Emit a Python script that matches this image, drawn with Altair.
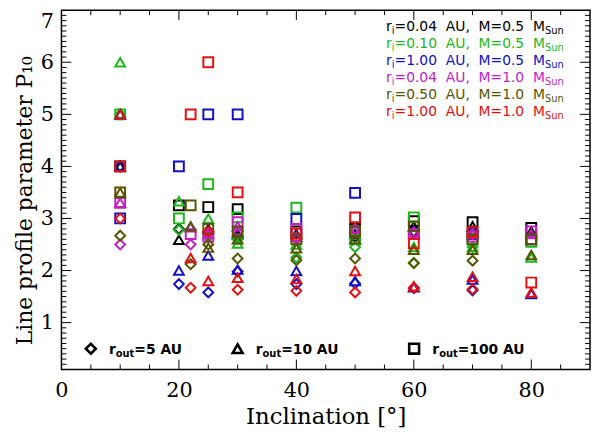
import altair as alt
import pandas as pd

# inclinations [deg] of the two model grids
incl_m05 = [10, 20, 25, 30, 40, 50, 60, 70, 80]
incl_m10 = [10, 22, 25, 30, 40, 50, 60, 70, 80]

# P10: _d r_out=5 AU, _t r_out=10 AU, _s r_out=100 AU
black_d = [4.0, 2.80, 2.75, 2.65, 2.60, 2.65, 2.75, 2.75, None]
black_t = [4.0, 2.59, 2.80, 2.70, 2.70, 2.70, 2.85, 2.85, 2.75]
black_s = [4.0, 3.25, 3.22, 3.18, 2.75, 2.80, 2.95, 2.93, 2.82]

green_d = [5.0, 2.78, 2.65, 2.60, 2.25, 2.45, 2.15, 2.45, None]
green_t = [6.0, 3.33, 3.00, 2.52, 2.50, 2.60, 2.45, 2.45, 2.25]
green_s = [5.0, 3.00, 3.66, 3.02, 3.21, 2.60, 3.02, 2.60, 2.55]

blue_d = [4.0, 1.74, 1.58, 1.98, 1.74, 1.75, 1.66, 1.62, None]
blue_t = [5.0, 2.00, 2.29, 2.02, 1.99, 1.80, 1.68, 1.83, 1.55]
blue_s = [3.0, 4.00, 5.00, 5.00, 2.99, 3.49, 2.70, 2.70, 2.60]

magenta_d = [2.50, 2.50, 2.70, 2.75, 2.60, 2.80, 2.70, 2.70, None]
magenta_t = [3.30, 2.83, 2.70, 2.85, 2.65, 2.80, 2.75, 2.70, 2.70]
magenta_s = [3.30, 2.70, 2.65, 2.93, 2.80, 2.75, 2.70, 2.65, 2.75]

olive_d = [2.67, 2.12, 2.50, 2.23, 2.20, 2.23, 2.14, 2.19, None]
olive_t = [3.50, 2.85, 2.44, 2.60, 2.43, 2.60, 2.40, 2.40, 2.30]
olive_s = [3.50, 3.25, 2.80, 2.75, 2.60, 2.75, 2.85, 2.60, 2.60]

red_d = [3.00, 1.67, 2.75, 1.63, 1.61, 1.58, 1.67, 1.64, None]
red_t = [5.00, 2.24, 1.80, 1.86, 1.84, 1.99, 1.70, 1.88, 1.58]
red_s = [4.00, 5.00, 6.00, 3.50, 2.71, 3.02, 2.52, 2.74, 1.77]

model_ri = ["0.04", "0.10", "1.00", "0.04", "0.50", "1.00"]
model_m = ["0.5", "0.5", "0.5", "1.0", "1.0", "1.0"]
colors = ["#000000", "#1cb81c", "#1010c8", "#c41ec4", "#555500", "#e60f0f"]

routs = ["5", "10", "100"]
rout_shapes = ["diamond", "triangle-up", "square"]

series = [
    (incl_m05, [black_d, black_t, black_s]),
    (incl_m05, [green_d, green_t, green_s]),
    (incl_m05, [blue_d, blue_t, blue_s]),
    (incl_m10, [magenta_d, magenta_t, magenta_s]),
    (incl_m10, [olive_d, olive_t, olive_s]),
    (incl_m10, [red_d, red_t, red_s]),
]

rows = []
for k, (incl, sets) in enumerate(series):
    for j, vals in enumerate(sets):
        for x, v in zip(incl, vals):
            if v is not None:
                rows.append({"incl": x, "p10": v, "model": str(k),
                             "rout": routs[j], "idx": len(rows)})
df = pd.DataFrame(rows)

W, H = 534, 363
xsc = alt.Scale(domain=[0, 90], nice=False, zero=False)
ysc = alt.Scale(domain=[0.1, 7], nice=False, zero=False)

points = alt.Chart(df).mark_point(filled=False, strokeWidth=2, size=98, opacity=1).encode(
    x=alt.X("incl:Q", scale=xsc,
            axis=alt.Axis(values=[0, 20, 40, 60, 80], title="Inclination [°]",
                          labelFont="DejaVu Serif", labelFontSize=21, labelColor="black",
                          titleFont="DejaVu Serif", titleFontSize=23, titleFontWeight="normal",
                          titleColor="black", ticks=False, domain=False, grid=False,
                          labelFlush=False, labelPadding=10, titlePadding=6)),
    y=alt.Y("p10:Q", scale=ysc,
            axis=alt.Axis(values=[1, 2, 3, 4, 5, 6, 7], format="d",
                          title="Line profile parameter P₁₀",
                          labelFont="DejaVu Serif", labelFontSize=21, labelColor="black",
                          titleFont="DejaVu Serif", titleFontSize=22, titleFontWeight="normal",
                          titleColor="black", ticks=False, domain=False, grid=False,
                          labelFlush=True, labelPadding=8, titlePadding=4, titleY=192)),
    color=alt.Color("model:N", scale=alt.Scale(domain=[str(i) for i in range(6)], range=colors),
                    legend=None),
    shape=alt.Shape("rout:N", scale=alt.Scale(domain=routs, range=rout_shapes), legend=None),
    order=alt.Order("idx:Q"),
)

# inward ticks on all four sides
x_major = [20, 40, 60, 80]
x_minor = [v for v in range(5, 90, 5) if v not in x_major]
y_major = [1, 2, 3, 4, 5, 6]
y_minor = [round(0.1 * i, 1) for i in range(2, 70) if i % 10 != 0]


def xticks(vals, y0, y1):
    return alt.Chart(pd.DataFrame({"v": vals})).mark_rule(color="black", strokeWidth=1).encode(
        x=alt.X("v:Q", scale=xsc, axis=None), y=alt.value(y0), y2=alt.value(y1))


def yticks(vals, x0, x1):
    return alt.Chart(pd.DataFrame({"v": vals})).mark_rule(color="black", strokeWidth=1).encode(
        y=alt.Y("v:Q", scale=ysc, axis=None), x=alt.value(x0), x2=alt.value(x1))


ticks = [
    xticks(x_major, H, H - 10), xticks(x_minor, H, H - 5),
    xticks(x_major, 0, 10), xticks(x_minor, 0, 5),
    yticks(y_major, 0, 10), yticks(y_minor, 0, 5),
    yticks(y_major, W, W - 10), yticks(y_minor, W, W - 5),
]

# approximate DejaVu Sans advance widths (em) to lay out subscripts
NB = "\u00a0"
sans_w = {"r": .411, "i": .278, "=": .838, ".": .318, NB: .318, ",": .318, "A": .684,
          "U": .732, "M": .863, "S": .635, "u": .634, "n": .634, "o": .612, "t": .392}
bold_w = {"r": .493, "o": .687, "u": .712, "t": .478, "=": .838, NB: .348, "A": .774, "U": .812}


def tw(s, size, table, digit):
    return sum(table.get(c, digit) for c in s) * size


fs, fsub = 14, 10
lab_rows = []
for k in range(6):
    x0, y0 = 328, 21.5 + 17 * k
    main = "=" + model_ri[k] + NB * 2 + "AU," + NB * 2 + "M=" + model_m[k] + NB * 2 + "M"
    x1 = x0 + tw("r", fs, sans_w, .636)
    x2 = x1 + tw("i", fsub, sans_w, .636)
    x3 = x2 + tw(main, fs, sans_w, .636)
    for txt, px, py, s in [("r", x0, y0, fs), ("i", x1, y0 + 3, fsub),
                           (main, x2, y0, fs), ("Sun", x3, y0 + 3, fsub)]:
        lab_rows.append({"txt": txt, "px": px, "py": py, "fs": s, "col": colors[k]})

labels = alt.Chart(pd.DataFrame(lab_rows)).mark_text(
    align="left", baseline="alphabetic", font="DejaVu Sans").encode(
    x=alt.X("px:Q", scale=None, axis=None),
    y=alt.Y("py:Q", scale=None, axis=None),
    text="txt:N",
    size=alt.Size("fs:Q", scale=None, legend=None),
    color=alt.Color("col:N", scale=None, legend=None),
)

# r_out key along the bottom
key_px = [29.7, 178, 356.3]
key_tx = [48, 196.3, 374.7]
key_py = 342
bf, bsub = 14, 10
key_rows = []
for j in range(3):
    x0, y0 = key_tx[j], key_py + 5
    x1 = x0 + tw("r", bf, bold_w, .696)
    x2 = x1 + tw("out", bsub, bold_w, .696)
    for txt, px, py, s in [("r", x0, y0, bf), ("out", x1, y0 + 3, bsub),
                           ("=" + routs[j] + NB + "AU", x2, y0, bf)]:
        key_rows.append({"txt": txt, "px": px, "py": py, "fs": s})

key_marks = alt.Chart(pd.DataFrame({"px": key_px, "py": [key_py] * 3, "shp": rout_shapes})).mark_point(
    filled=False, strokeWidth=2.6, size=100, color="black", opacity=1).encode(
    x=alt.X("px:Q", scale=None, axis=None),
    y=alt.Y("py:Q", scale=None, axis=None),
    shape=alt.Shape("shp:N", scale=None, legend=None),
)

key_text = alt.Chart(pd.DataFrame(key_rows)).mark_text(
    align="left", baseline="alphabetic", font="DejaVu Sans", fontWeight="bold", color="black").encode(
    x=alt.X("px:Q", scale=None, axis=None),
    y=alt.Y("py:Q", scale=None, axis=None),
    text="txt:N",
    size=alt.Size("fs:Q", scale=None, legend=None),
)

chart = alt.layer(*ticks, points, labels, key_marks, key_text).resolve_scale(
    x="independent", y="independent", color="independent", shape="independent", size="independent"
).properties(
    width=W, height=H,
    autosize=alt.AutoSizeParams(type="none"),
    padding={"left": 54, "top": 0, "right": 2, "bottom": 66},
).configure_view(stroke="black", strokeWidth=1.5)

chart.save("out.html", embed_options={"renderer": "svg", "actions": False})
